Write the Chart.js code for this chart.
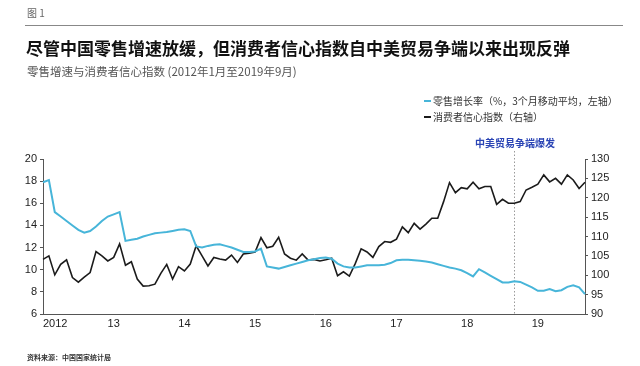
<!DOCTYPE html>
<html>
<head>
<meta charset="utf-8">
<script src="https://cdn.jsdelivr.net/npm/chart.js@4.4.0/dist/chart.umd.min.js"></script>
<style>
  body { margin: 0; background: #fff; }
  #wrap { position: relative; width: 640px; height: 366px; overflow: hidden; }
  #chart { position: absolute; left: 0; top: 0; }
  .txt { position: absolute; white-space: nowrap; font-family: "Noto Sans CJK SC", "Noto Sans", sans-serif; }
  .rule { position: absolute; left: 25px; top: 25px; width: 598px; height: 0; border-top: 1.5px solid #888; }
  .key { position: absolute; width: 7px; height: 0; }
</style>
</head>
<body>
<div id="wrap">
  <canvas id="chart" width="640" height="366"></canvas>
  <div class="txt" style="left:27px;top:5px;font-size:10px;color:#666;">图 1</div>
  <div class="rule"></div>
  <div class="txt" style="left:26px;top:35px;font-size:17px;font-weight:700;color:#111;">尽管中国零售增速放缓，但消费者信心指数自中美贸易争端以来出现反弹</div>
  <div class="txt" style="left:27px;top:63px;font-size:11.5px;color:#555;">零售增速与消费者信心指数 (2012年1月至2019年9月)</div>

  <div class="key" style="left:424px;top:100px;border-top:2px solid #47b5d9;"></div>
  <div class="txt" style="left:433px;top:93px;font-size:10px;color:#333;">零售增长率（%，3个月移动平均，左轴）</div>
  <div class="key" style="left:424px;top:116px;border-top:2px solid #1b1b1b;"></div>
  <div class="txt" style="left:433px;top:109px;font-size:10px;color:#333;">消费者信心指数（右轴）</div>

  <div class="txt" style="left:475px;top:135px;font-size:10px;font-weight:700;color:#2b45b5;">中美贸易争端爆发</div>
  <div class="txt" style="left:27px;top:352px;font-size:7px;font-weight:700;color:#333;">资料来源：中国国家统计局</div>
</div>

<script>
// x axis: monthly, Jan 2012 .. Sep 2019
const years = [2012, 2013, 2014, 2015, 2016, 2017, 2018, 2019];
const yearTickLabels = ['2012', '13', '14', '15', '16', '17', '18', '19'];
const lastMonth = '2019-09';
const tradeWarMonth = '2018-09';

const months = [];
years.forEach(y => {
    for (let m = 1; m <= 12; m++) {
        const label = y + '-' + String(m).padStart(2, '0');
        if (months.length && months[months.length - 1] === lastMonth) return;
        months.push(label);
    }
});

// 零售增长率 (%, 3个月移动平均, 左轴)
const retailGrowth = [
    17.9, 18.1, 15.2, 14.8, 14.4, 14.0, 13.6, 13.35, 13.5, 13.9, 14.4, 14.8,
    15.0, 15.2, 12.6, 12.7, 12.8, 13.0, 13.15, 13.3, 13.35, 13.4, 13.5, 13.6,
    13.65, 13.5, 12.1, 12.0, 12.15, 12.25, 12.3, 12.15, 12.0, 11.8, 11.6, 11.6,
    11.65, 11.9, 10.3, 10.2, 10.1, 10.25, 10.4, 10.55, 10.7, 10.85, 10.95, 11.05,
    11.1, 11.0, 10.55, 10.3, 10.2, 10.2, 10.3, 10.4, 10.4, 10.4, 10.45, 10.6,
    10.85, 10.9, 10.9, 10.85, 10.8, 10.75, 10.65, 10.5, 10.35, 10.2, 10.1, 9.95,
    9.7, 9.4, 10.05, 9.75, 9.45, 9.15, 8.85, 8.85, 8.95, 8.9, 8.65, 8.4,
    8.1, 8.1, 8.25, 8.05, 8.15, 8.45, 8.6, 8.4, 7.8
];

// 消费者信心指数 (右轴)
const confidence = [
    104.1, 105.0, 100.1, 102.8, 104.0, 99.4, 98.2, 99.5, 100.7, 106.1, 105.0, 103.7,
    104.6, 108.1, 102.6, 103.5, 99.0, 97.2, 97.3, 97.7, 100.5, 102.8, 99.0, 102.2,
    101.1, 102.9, 107.6, 105.0, 102.4, 104.6, 104.2, 103.9, 105.2, 103.3, 105.5, 105.7,
    106.0, 109.7, 107.1, 107.5, 109.8, 105.5, 104.4, 103.9, 105.5, 103.9, 104.1, 103.7,
    104.0, 104.4, 99.9, 100.9, 99.8, 103.0, 106.8, 106.0, 104.6, 107.4, 108.7, 108.5,
    109.3, 112.5, 111.0, 113.4, 111.9, 113.2, 114.7, 114.7, 119.0, 123.9, 121.3, 122.6,
    122.3, 124.0, 122.3, 122.9, 122.9, 118.3, 119.6, 118.6, 118.6, 119.0, 122.0, 122.7,
    123.5, 125.9, 124.1, 125.0, 123.5, 125.9, 124.6, 122.4, 124.0
];

const axisColor = '#555';
const tickFont = { family: 'Liberation Sans, Arial, sans-serif', size: 11 };

// dotted vertical line at the start of the trade dispute
const eventLine = {
    id: 'eventLine',
    beforeDatasetsDraw(chart) {
        const x = chart.scales.x.getPixelForValue(months.indexOf(tradeWarMonth));
        const area = chart.chartArea;
        const ctx = chart.ctx;
        ctx.save();
        ctx.strokeStyle = '#9a9a9a';
        ctx.lineWidth = 1;
        ctx.setLineDash([1.5, 2]);
        ctx.beginPath();
        ctx.moveTo(Math.round(x) + 0.5, area.top - 8);
        ctx.lineTo(Math.round(x) + 0.5, area.bottom);
        ctx.stroke();
        ctx.restore();
    }
};

const ctx = document.getElementById('chart').getContext('2d');
new Chart(ctx, {
    type: 'line',
    data: {
        labels: months,
        datasets: [
            {
                label: '零售增长率（%，3个月移动平均，左轴）',
                data: retailGrowth,
                yAxisID: 'y',
                borderColor: '#47b5d9',
                borderWidth: 2,
                pointRadius: 0,
                tension: 0
            },
            {
                label: '消费者信心指数（右轴）',
                data: confidence,
                yAxisID: 'y1',
                borderColor: '#1b1b1b',
                borderWidth: 1.6,
                pointRadius: 0,
                tension: 0
            }
        ]
    },
    options: {
        responsive: false,
        animation: false,
        layout: { padding: { top: 159, left: 0, right: 0, bottom: 0 } },
        plugins: {
            legend: { display: false },
            tooltip: { enabled: false }
        },
        scales: {
            x: {
                type: 'category',
                offset: false,
                grid: { display: false, drawTicks: false },
                border: { display: true, color: axisColor, width: 1 },
                ticks: {
                    autoSkip: false,
                    maxRotation: 0,
                    align: 'inner',
                    padding: 3,
                    color: '#222',
                    font: tickFont,
                    callback: function(value, index) {
                        const label = months[index];
                        if (label.endsWith('-01')) {
                            return yearTickLabels[years.indexOf(Number(label.slice(0, 4)))];
                        }
                        return '';
                    }
                },
                afterFit: function(scale) { scale.height = 52; }
            },
            y: {
                position: 'left',
                min: 6,
                max: 20,
                ticks: { stepSize: 2, color: '#222', font: tickFont, padding: 3 },
                grid: { drawOnChartArea: false, tickLength: 3, color: axisColor },
                border: { display: true, color: axisColor, width: 1 },
                afterFit: function(scale) { scale.width = 43; }
            },
            y1: {
                position: 'right',
                min: 90,
                max: 130,
                ticks: { stepSize: 5, color: '#222', font: tickFont, padding: 3 },
                grid: { drawOnChartArea: false, tickLength: 3, color: axisColor },
                border: { display: true, color: axisColor, width: 1 },
                afterFit: function(scale) { scale.width = 55; }
            }
        }
    },
    plugins: [eventLine]
});
</script>
</body>
</html>
